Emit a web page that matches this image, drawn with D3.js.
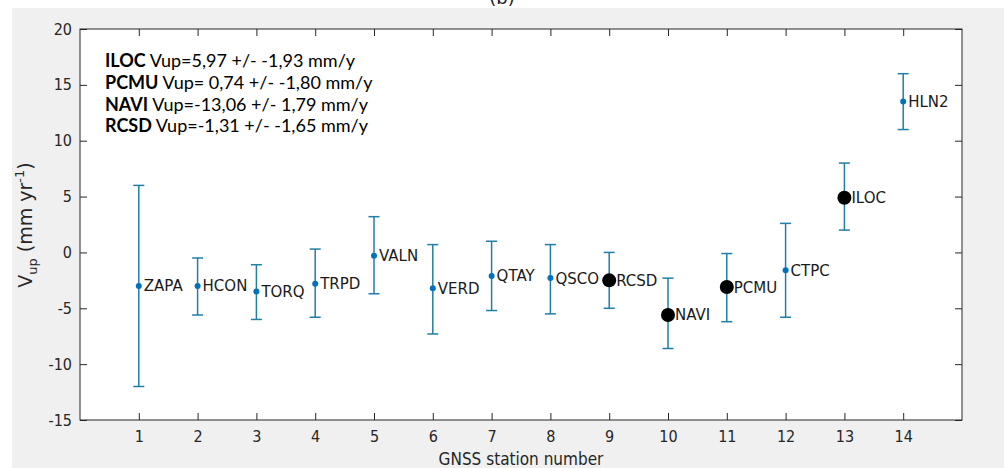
<!DOCTYPE html>
<html>
<head>
<meta charset="utf-8">
<script src="https://cdn.jsdelivr.net/npm/d3@7"></script>
<style>
  body { margin: 0; background: #fff; }
  svg { display: block; }
</style>
</head>
<body>
<div id="chart"></div>
<script>
// station data
var stations = ["ZAPA", "HCON", "TORQ", "TRPD", "VALN", "VERD", "QTAY", "QSCO", "RCSD", "NAVI", "PCMU", "CTPC", "ILOC", "HLN2"];
var vup = [-3.0, -3.0, -3.5, -2.8, -0.3, -3.2, -2.1, -2.3, -2.5, -5.6, -3.1, -1.6, 4.9, 13.5];
var errTop = [6.0, -0.5, -1.1, 0.3, 3.2, 0.7, 1.0, 0.7, 0.0, -2.3, -0.1, 2.6, 8.0, 16.0];
var errBottom = [-12.0, -5.6, -6.0, -5.8, -3.7, -7.3, -5.2, -5.5, -5.0, -8.6, -6.2, -5.8, 2.0, 11.0];
var highlighted = ["RCSD", "NAVI", "PCMU", "ILOC"];
var yTicks = [-15, -10, -5, 0, 5, 10, 15, 20];
var xTicks = [1, 2, 3, 4, 5, 6, 7, 8, 9, 10, 11, 12, 13, 14];
var legendNames = ["ILOC", "PCMU", "NAVI", "RCSD"];
var legendTexts = [" Vup=5,97 +/- -1,93 mm/y", " Vup= 0,74 +/- -1,80 mm/y", " Vup=-13,06 +/- 1,79 mm/y", " Vup=-1,31 +/- -1,65 mm/y"];

var svgWidth = 1004;
var svgHeight = 468;
var margin = { top: 29, right: 42, bottom: 48, left: 80 };
var width = svgWidth - margin.left - margin.right;
var height = svgHeight - margin.top - margin.bottom;

var svg = d3.select("#chart").append("svg")
  .attr("width", svgWidth)
  .attr("height", svgHeight);

// gray figure background
svg.append("rect")
  .attr("x", 12).attr("y", 8)
  .attr("width", svgWidth - 12).attr("height", svgHeight - 8)
  .attr("fill", "#f0f0f0");

// panel title, cut off at the top like in the source
svg.append("text")
  .attr("x", 502).attr("y", 4)
  .attr("text-anchor", "middle")
  .style("font-family", "DejaVu Sans")
  .style("font-size", "18px")
  .attr("fill", "#222")
  .text("(b)");

var chartGroup = svg.append("g")
  .attr("transform", `translate(${margin.left}, ${margin.top})`);

chartGroup.append("rect")
  .attr("width", width).attr("height", height)
  .attr("fill", "#fff");

var x = d3.scaleLinear().domain([0, 15]).range([0, width]);
var y = d3.scaleLinear().domain([-15, 20]).range([height, 0]);

var tickFont = "'DejaVu Sans Condensed', 'DejaVu Sans', sans-serif";

// axes with inward ticks, plain hyphen minus like matlab
var xAxis = d3.axisBottom(x).tickValues(xTicks).tickSize(-7).tickPadding(11).tickFormat(d => String(d));
var yAxis = d3.axisLeft(y).tickValues(yTicks).tickSize(-7).tickPadding(8).tickFormat(d => String(d));

var gx = chartGroup.append("g")
  .attr("transform", `translate(0, ${height})`)
  .call(xAxis);
var gy = chartGroup.append("g").call(yAxis);
chartGroup.append("g")
  .call(d3.axisTop(x).tickValues(xTicks).tickSize(-7).tickFormat(""));
chartGroup.append("g")
  .attr("transform", `translate(${width}, 0)`)
  .call(d3.axisRight(y).tickValues(yTicks).tickSize(-7).tickFormat(""));

chartGroup.selectAll(".domain").remove();
chartGroup.selectAll(".tick line").attr("stroke", "#262626");
[gx, gy].forEach(function(g) {
  g.selectAll("text")
    .style("font-family", tickFont)
    .style("font-size", "16px")
    .attr("fill", "#262626");
});

chartGroup.append("rect")
  .attr("width", width).attr("height", height)
  .attr("fill", "none")
  .attr("stroke", "#262626")
  .attr("stroke-width", 1);

// error bars
var barColor = "#1f7fa8";
var bars = chartGroup.selectAll(".errbar")
  .data(stations)
  .enter()
  .append("g")
  .attr("class", "errbar");

bars.append("line")
  .attr("x1", (d, i) => x(i + 1)).attr("x2", (d, i) => x(i + 1))
  .attr("y1", (d, i) => y(errTop[i])).attr("y2", (d, i) => y(errBottom[i]))
  .attr("stroke", barColor).attr("stroke-width", 1.5);
bars.append("line")
  .attr("x1", (d, i) => x(i + 1) - 5.5).attr("x2", (d, i) => x(i + 1) + 5.5)
  .attr("y1", (d, i) => y(errTop[i])).attr("y2", (d, i) => y(errTop[i]))
  .attr("stroke", barColor).attr("stroke-width", 1.5);
bars.append("line")
  .attr("x1", (d, i) => x(i + 1) - 5.5).attr("x2", (d, i) => x(i + 1) + 5.5)
  .attr("y1", (d, i) => y(errBottom[i])).attr("y2", (d, i) => y(errBottom[i]))
  .attr("stroke", barColor).attr("stroke-width", 1.5);

// points: small blue for all, big black for the highlighted ones
bars.append("circle")
  .attr("cx", (d, i) => x(i + 1))
  .attr("cy", (d, i) => y(vup[i]))
  .attr("r", d => highlighted.includes(d) ? 7 : 3)
  .attr("fill", d => highlighted.includes(d) ? "#000" : "#0072bd");

bars.append("text")
  .attr("x", (d, i) => x(i + 1) + (highlighted.includes(d) ? 7 : 5))
  .attr("y", (d, i) => y(vup[i]) + 5.5)
  .style("font-family", "'DejaVu Sans', sans-serif")
  .style("font-size", "15px")
  .attr("fill", "#1a1a1a")
  .text(d => d);

// legend text box
var legend = chartGroup.append("g")
  .attr("transform", "translate(25, 38)");
legendNames.forEach(function(name, i) {
  var t = legend.append("text")
    .attr("x", 0)
    .attr("y", i * 21.8)
    .style("font-family", "Lato, 'Open Sans', sans-serif")
    .style("font-size", "18px")
    .attr("fill", "#000");
  t.append("tspan").style("font-weight", "bold").text(name);
  t.append("tspan").text(legendTexts[i]);
});

// axis labels
svg.append("text")
  .attr("x", margin.left + width / 2)
  .attr("y", 465)
  .attr("text-anchor", "middle")
  .style("font-family", tickFont)
  .style("font-size", "17px")
  .attr("fill", "#262626")
  .text("GNSS station number");

var ylab = svg.append("text")
  .attr("transform", "translate(32, 225) rotate(-90)")
  .attr("text-anchor", "middle")
  .style("font-family", "'DejaVu Sans', sans-serif")
  .style("font-size", "19px")
  .attr("fill", "#262626");
ylab.append("tspan").text("V");
ylab.append("tspan").attr("dy", 5).style("font-size", "13px").text("up");
ylab.append("tspan").attr("dy", -5).text(" (mm yr");
ylab.append("tspan").attr("dy", -8).style("font-size", "13px").text("-1");
ylab.append("tspan").attr("dy", 8).text(")");
</script>
</body>
</html>
